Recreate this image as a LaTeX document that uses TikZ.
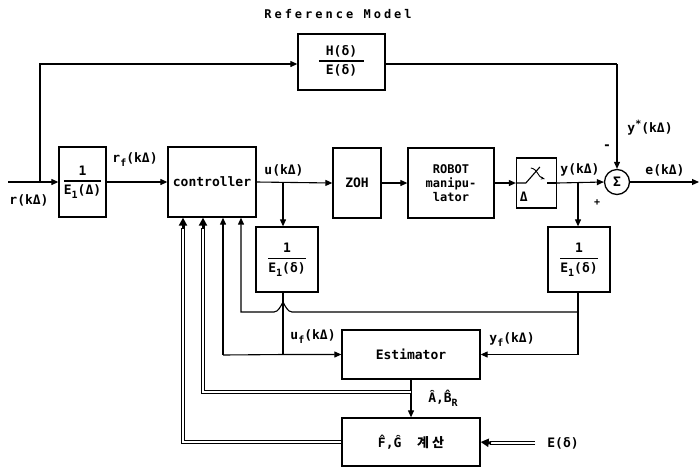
\documentclass[tikz,border=0pt]{standalone}
\usepackage{fontspec}
\setmainfont{DejaVu Sans Mono}
\newfontfamily\kr{Noto Sans CJK KR}
\usetikzlibrary{arrows.meta,calc}
\newcommand\sub[1]{\raisebox{-4pt}{\fontsize{10}{10}\selectfont #1}}
\newcommand\sups[1]{\raisebox{5pt}{\fontsize{10}{10}\selectfont #1}}
\newcommand\fr[3][0pt]{{\setlength\arrayrulewidth{1.3pt}\begin{tabular}{@{\hspace{#1}}c@{\hspace{#1}}}#2\\[1pt]\hline\rule{0pt}{13pt}#3\end{tabular}}}
\tikzset{
  box/.style={draw, line width=1.3pt, rectangle, inner sep=1pt, align=center,
    font=\fontsize{13}{14}\selectfont\bfseries},
  lbl/.style={font=\fontsize{13}{15}\selectfont\bfseries, inner sep=0pt},
  ln/.style={line width=1.1pt},
  arr/.style={line width=1.1pt, -{Triangle[length=7pt,width=6pt]}},
  thickarr/.style={line width=3pt, -{Triangle[length=8pt,width=8pt]}},
  dbl/.style={double, line width=1.1pt, double distance=1.6pt},
}
\begin{document}
\begin{tikzpicture}[x=1pt,y=-1pt]
\useasboundingbox (0,0) rectangle (700,469);
% title
\node[lbl, font=\fontsize{12}{13}\selectfont\bfseries\addfontfeature{LetterSpace=25}] (title) at (338,14) {Reference Model};
% blocks
\node[box, minimum width=87pt, minimum height=56pt] (H) at (341.5,62) {\fr[7pt]{H(δ)}{E(δ)}};
\node[box, minimum width=47pt, minimum height=70pt] (E1) at (82.5,182) {\fr{1}{E\sub{1}(Δ)}};
\node[box, minimum width=88pt, minimum height=70pt] (ctrl) at (212,182) {controller};
\node[box, minimum width=48pt, minimum height=70pt] (zoh) at (357,183) {ZOH};
\node[box, minimum width=86pt, minimum height=70pt, font=\fontsize{12}{14}\selectfont\bfseries] (robot) at (451,183) {ROBOT\\manipu-\\lator};
\node[box, minimum width=40pt, minimum height=50pt] (samp) at (536.5,183) {};
\node[draw, circle, line width=1.3pt, minimum size=25pt, inner sep=0pt, font=\fontsize{13}{14}\selectfont\bfseries] (sig) at (617,182) {Σ};
\node[box, minimum width=62pt, minimum height=65pt] (Eu) at (287,259.5) {\fr{1}{E\sub{1}(δ)}};
\node[box, minimum width=62pt, minimum height=65pt] (Ey) at (579,259.5) {\fr{1}{E\sub{1}(δ)}};
\node[box, minimum width=138pt, minimum height=49pt] (est) at (411,354.5) {Estimator};
\node[box, minimum width=138pt, minimum height=48pt] (fg) at (411,442) {F̂,Ĝ \ {\kr\bfseries 계 산}};
% sampler interior
\draw[ln] (samp.west) -- ++(10,0) -- ++(14,-16);
\draw[line width=0.9pt, -{Stealth[length=4pt]}] ($(samp.west)+(15,-15)$) .. controls ($(samp.west)+(22,-14)$) and ($(samp.west)+(22,-6)$) .. ($(samp.west)+(29,-4)$);
\draw[ln] (samp.east) -- ++(-10,0);
\node[lbl] (sdel) at ($(samp.south west)+(8,-12)$) {Δ};
% coordinates
\coordinate (rin) at (8,182);
\coordinate (jr) at (40,182);
\coordinate (tl) at (40,64);
\coordinate (tr) at (617,64);
\coordinate (ju) at (283,182);
\coordinate (jy) at (578,182);
\coordinate (eout) at (699,182);
\coordinate (xa) at (183,0);
\coordinate (xb) at (203,0);
\coordinate (xc) at (223,0);
\coordinate (xd) at (241,0);
\coordinate (jyf) at (578,312);
\coordinate (juf) at (283,355);
\coordinate (jest) at (411,392);
\coordinate (ein) at (535,443);
% main path
\draw[arr] (rin) -- (E1.west);
\draw[arr] (jr) -- (tl) -- (tl -| H.west);
\draw[ln] (tl -| H.east) -- (tr);
\draw[arr] (tr) -- (sig.north);
\draw[arr] (E1.east) -- (ctrl.west);
\draw[arr] (ctrl.east) -- (zoh.west);
\draw[arr] (ju) -- (ju |- Eu.north);
\draw[arr] (zoh.east) -- (robot.west);
\draw[arr] (robot.east) -- (samp.west);
\draw[arr] (samp.east) -- (sig.west);
\draw[arr] (jy) -- (jy |- Ey.north);
\draw[arr] (sig.east) -- (eout);
% feedback filters
\draw[ln] (ju |- Eu.south) -- (juf);
\draw[arr] (xc |- juf) -- (juf |- est.west) -- (est.west);
\draw[arr] (xc |- juf) -- (xc |- ctrl.south);
\draw[ln] (jy |- Ey.south) -- (jy |- est.east);
\draw[arr] (jy |- est.east) -- (est.east);
\draw[arr] (jyf) -- (292,312) .. controls (288,312) and (285,306) .. (283,302)
   .. controls (281,306) and (278,312) .. (274,312) -- (xd |- jyf) -- (xd |- ctrl.south);
% estimator outputs
\draw[arr] (est.south) -- (fg.north);
\draw[dbl] (jest) -- (xb |- jest) -- (203,228);
\draw[thickarr] (203,229) -- (xb |- ctrl.south);
\draw[dbl] (fg.west) -- (xa |- fg.west) -- (183,228);
\draw[thickarr] (183,229) -- (xa |- ctrl.south);
\draw[dbl] (ein) -- (490,443);
\draw[thickarr] (491,443) -- (fg.east);
% labels
\node[lbl] (lr) at (29,200) {r(kΔ)};
\node[lbl] (lrf) at (135,160) {r\sub{f}(kΔ)};
\node[lbl] (lu) at (284,170) {u(kΔ)};
\node[lbl] (ly) at (580,170) {y(kΔ)};
\node[lbl] (le) at (665,170) {e(kΔ)};
\node[lbl] (lys) at (650,128) {y\sups{*}(kΔ)};
\node[lbl] (lm) at (607,147) {-};
\node[lbl, font=\fontsize{10}{10}\selectfont\bfseries] (lp) at (597,203) {+};
\node[lbl] (luf) at (313,337) {u\sub{f}(kΔ)};
\node[lbl] (lyf) at (512,340) {y\sub{f}(kΔ)};
\node[lbl] (lab) at (443,398) {Â,B̂\sub{R}};
\node[lbl] (led) at (563,443) {E(δ)};
\end{tikzpicture}
\end{document}
